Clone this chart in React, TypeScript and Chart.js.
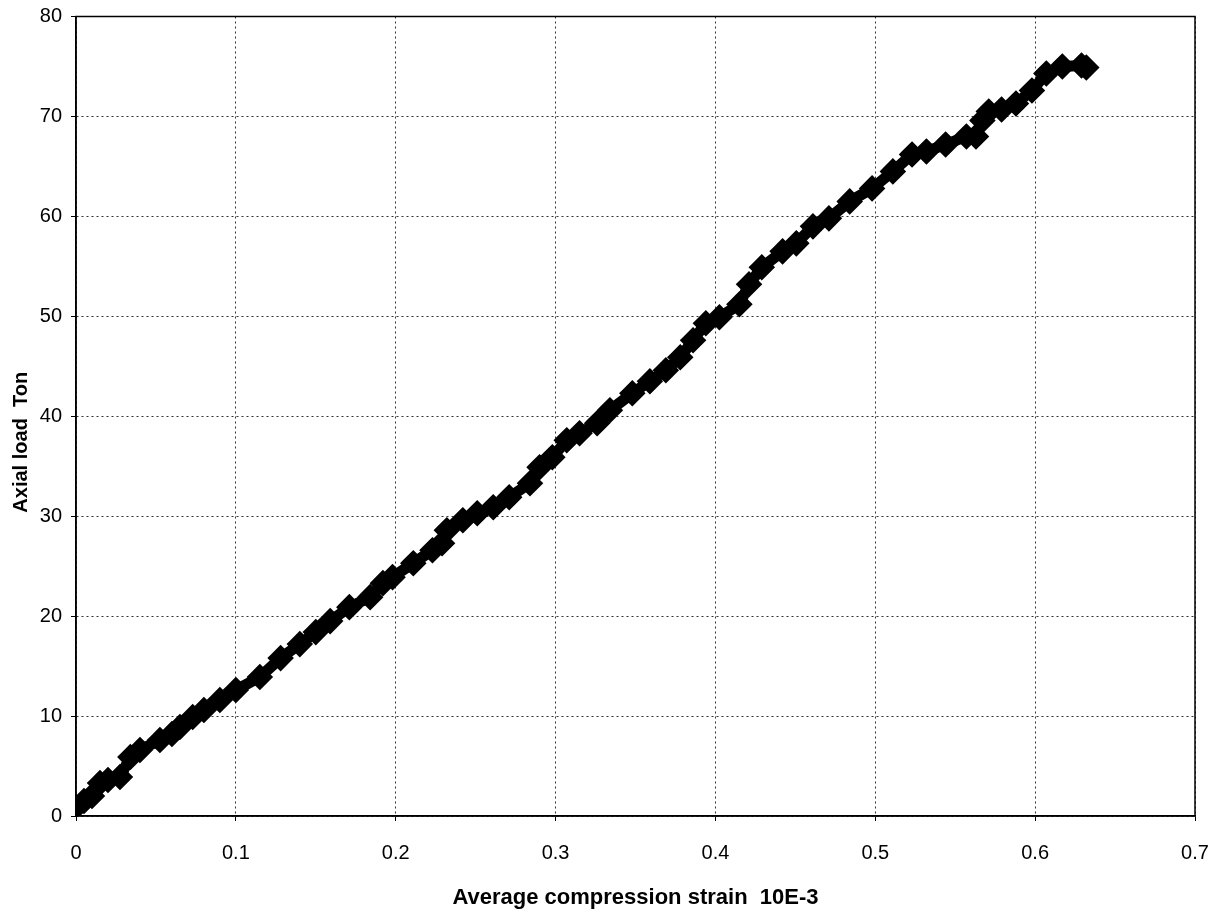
import React, { useEffect, useRef } from "react";
import { Chart, registerables } from "chart.js";

Chart.register(...registerables);

const strain: number[] = [
  0, 0.005, 0.01, 0.015, 0.02, 0.0275, 0.034, 0.04, 0.0525, 0.06, 0.065, 0.073,
  0.08, 0.09, 0.1, 0.115, 0.128, 0.14, 0.15, 0.159, 0.171, 0.184, 0.192, 0.198,
  0.211, 0.223, 0.229, 0.232, 0.242, 0.251, 0.261, 0.271, 0.284, 0.29, 0.298,
  0.307, 0.315, 0.326, 0.334, 0.348, 0.359, 0.369, 0.378, 0.386, 0.394, 0.4025,
  0.415, 0.421, 0.429, 0.442, 0.4506, 0.461, 0.471, 0.484, 0.498, 0.511, 0.523,
  0.532, 0.544, 0.557, 0.563, 0.567, 0.571, 0.579, 0.588, 0.598, 0.607, 0.617,
  0.629, 0.632,
];

const load: number[] = [
  0.9, 1.5, 2.0, 3.3, 3.6, 3.9, 5.9, 6.6, 7.6, 8.2, 8.9, 9.9,
  10.6, 11.6, 12.6, 13.9, 15.8, 17.2, 18.4, 19.5, 20.9, 21.9, 23.3, 23.9,
  25.3, 26.6, 27.3, 28.6, 29.6, 30.3, 30.9, 31.9, 33.3, 34.9, 35.9,
  37.6, 38.3, 39.3, 40.6, 42.3, 43.5, 44.6, 45.9, 47.6, 49.3, 49.9,
  51.2, 53.2, 54.9, 56.5, 57.3, 59.0, 59.8, 61.5, 62.8, 64.5, 66.2,
  66.5, 67.2, 68.0, 68.0, 69.6, 70.5, 70.7, 71.3, 72.6, 74.3, 75.0,
  75.1, 74.9,
];

const xTitle = "Average compression strain  10E-3";
const yTitle = "Axial load  Ton";

const FONT = "'Liberation Sans', Arial, sans-serif";

const framePlugin = {
  id: "frame",
  afterDraw(chart: any) {
    const { ctx, chartArea } = chart;
    ctx.save();
    ctx.strokeStyle = "#000";
    ctx.lineWidth = 1.5;
    ctx.setLineDash([]);
    ctx.strokeRect(chartArea.left, chartArea.top, chartArea.right - chartArea.left, chartArea.bottom - chartArea.top);
    // y axis title
    const cy = (chartArea.top + chartArea.bottom) / 2 + 26;
    ctx.translate(21, cy);
    ctx.rotate(-Math.PI / 2);
    ctx.fillStyle = "#000";
    ctx.font = `bold 20px ${FONT}`;
    ctx.textAlign = "center";
    ctx.textBaseline = "middle";
    ctx.fillText(yTitle, 0, 0);
    ctx.restore();
  },
};

export default function App() {
  const ref = useRef<HTMLCanvasElement | null>(null);

  useEffect(() => {
    if (!ref.current) return;
    const data = strain.map((x, i) => ({ x, y: load[i] }));
    const gridOpts = {
      color: "#333",
      lineWidth: 1,
      tickLength: 5,
      tickColor: "#000",
      tickBorderDash: [],
    };
    const chart = new Chart(ref.current, {
      type: "scatter",
      data: {
        datasets: [
          {
            data,
            showLine: true,
            borderColor: "#000",
            backgroundColor: "#000",
            borderWidth: 11,
            pointStyle: "rectRot",
            pointRadius: 5.5,
            tension: 0,
          },
        ],
      },
      options: {
        animation: false,
        responsive: false,
        maintainAspectRatio: false,
        layout: { padding: { top: 15, right: 21, left: 0, bottom: 0 } },
        plugins: { legend: { display: false }, tooltip: { enabled: false } },
        scales: {
          x: {
            type: "linear",
            min: 0,
            max: 0.7,
            afterFit: (s: any) => {
              s.height = 100;
              s.paddingLeft = 0;
              s.paddingRight = 0;
            },
            ticks: {
              stepSize: 0.1,
              color: "#000",
              font: { family: FONT, size: 20 },
              padding: 20,
              callback: (v: any) => String(Math.round(Number(v) * 10) / 10),
            },
            grid: gridOpts,
            border: { display: true, color: "#000", width: 1.5, dash: [2, 3] },
            title: {
              display: true,
              text: xTitle,
              color: "#000",
              font: { family: FONT, size: 22, weight: "bold" },
              padding: { top: 0, bottom: 5 },
            },
          },
          y: {
            type: "linear",
            min: 0,
            max: 80,
            afterFit: (s: any) => {
              s.width = 76;
              s.paddingTop = 0;
              s.paddingBottom = 0;
            },
            ticks: {
              stepSize: 10,
              color: "#000",
              font: { family: FONT, size: 20 },
              padding: 9,
            },
            grid: gridOpts,
            border: { display: true, color: "#000", width: 1.5, dash: [2, 3] },
            title: { display: false },
          },
        },
      },
      plugins: [framePlugin],
    } as any);
    return () => chart.destroy();
  }, []);

  return (
    <div style={{ position: "fixed", left: 0, top: 0, width: 1216, height: 916, background: "#fff" }}>
      <canvas ref={ref} width={1216} height={916} style={{ width: 1216, height: 916, display: "block" }} />
    </div>
  );
}
